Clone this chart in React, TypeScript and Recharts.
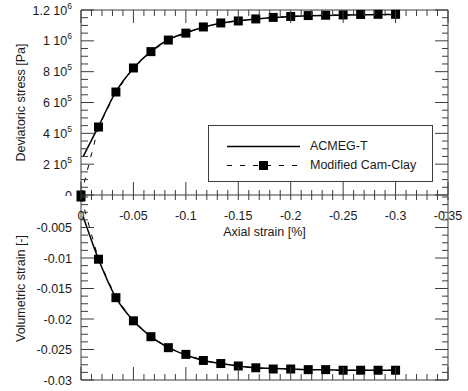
import React from "react";
import { Label, Legend, Line, LineChart, XAxis, YAxis } from "recharts";

const FONT = "'Liberation Sans', Arial, sans-serif";
const INK = "#1a1a1a";
const FRAME = "#3c3c3c";

// Modified Cam-Clay (square markers, dashed)
const camStrain = [0, -0.0167, -0.0333, -0.05, -0.0667, -0.0833, -0.1, -0.1167, -0.1333, -0.15, -0.1667, -0.1833, -0.2, -0.2167, -0.2333, -0.25, -0.2667, -0.2833, -0.3];
const camStress = [0, 4.41e5, 6.68e5, 8.24e5, 9.3e5, 1.005e6, 1.05e6, 1.09e6, 1.116e6, 1.129e6, 1.142e6, 1.152e6, 1.158e6, 1.164e6, 1.166e6, 1.168e6, 1.171e6, 1.172e6, 1.172e6];
const camVolume = [0, -0.0102, -0.0165, -0.0203, -0.0229, -0.0247, -0.0258, -0.0268, -0.0273, -0.0277, -0.028, -0.0282, -0.0282, -0.0283, -0.0283, -0.0284, -0.0284, -0.0284, -0.0284];

// ACMEG-T (solid line)
const acmegStrain = [-0.002, -0.0167, -0.0333, -0.05, -0.0667, -0.0833, -0.1, -0.1167, -0.1333, -0.15, -0.1667, -0.1833, -0.2, -0.2167, -0.2333, -0.25, -0.2667, -0.2833, -0.3];
const acmegStress = [2.48e5, 4.45e5, 6.7e5, 8.22e5, 9.32e5, 1.007e6, 1.052e6, 1.088e6, 1.114e6, 1.13e6, 1.142e6, 1.151e6, 1.157e6, 1.162e6, 1.165e6, 1.167e6, 1.169e6, 1.17e6, 1.171e6];
const acmegVolume = [-0.0032, -0.0102, -0.0165, -0.0203, -0.0229, -0.0247, -0.0259, -0.0268, -0.0273, -0.0277, -0.028, -0.0281, -0.0282, -0.0283, -0.0283, -0.0284, -0.0284, -0.0284, -0.0284];

// tick labels
const strainTicks = [0, -0.05, -0.1, -0.15, -0.2, -0.25, -0.3, -0.35];
const strainLabels = ["0", "-0.05", "-0.1", "-0.15", "-0.2", "-0.25", "-0.3", "-0.35"];
const stressTicks = [0, 2e5, 4e5, 6e5, 8e5, 1e6, 1.2e6];
const stressMantissa = ["0", "2", "4", "6", "8", "1", "1.2"];
const stressExponent = ["", "5", "5", "5", "5", "6", "6"];
const volumeTicks = [-0.005, -0.01, -0.015, -0.02, -0.025, -0.03];
const volumeLabels = ["-0.005", "-0.01", "-0.015", "-0.02", "-0.025", "-0.03"];

const strainMinor = Array.from({ length: 36 }, (_, i) => -i * 0.01);
const stressMinor = Array.from({ length: 25 }, (_, i) => i * 5e4);
const volumeMinor = Array.from({ length: 25 }, (_, i) => -i * 0.00125);

// one table per panel, rows keyed by axial strain
const merge = (xa: number[], ya: number[], xb: number[], yb: number[]) =>
  Array.from(new Set([...xa, ...xb]))
    .sort((p, q) => q - p)
    .map((x) => {
      const i = xa.indexOf(x);
      const j = xb.indexOf(x);
      return { x, cam: i >= 0 ? ya[i] : null, acmeg: j >= 0 ? yb[j] : null };
    });

const stressRows = merge(camStrain, camStress, acmegStrain, acmegStress);
const volumeRows = merge(camStrain, camVolume, acmegStrain, acmegVolume);

const findTick = (list: number[], v: number) =>
  list.findIndex((t) => Math.abs(t - v) < 1e-9 * Math.max(1, Math.abs(t)) + 1e-9);

const squareDot = (props: any) => {
  if (props.cx == null || props.cy == null || props.value == null) return <g key={props.index} />;
  return <rect key={props.index} x={props.cx - 4.5} y={props.cy - 4.5} width={9} height={9} fill="#000" />;
};

const TopTick = ({ x, y, payload }: any) => {
  const major = findTick(strainTicks, payload.value) >= 0;
  return <line x1={x} x2={x} y1={y} y2={y + (major ? 13 : 6)} stroke={FRAME} />;
};

const MidUpTick = ({ x, y, payload }: any) => {
  const major = findTick(strainTicks, payload.value) >= 0;
  return <line x1={x} x2={x} y1={y - (major ? 13 : 5)} y2={y + 1} stroke={FRAME} />;
};

const MidDownTick = ({ x, y, payload }: any) => {
  const i = findTick(strainTicks, payload.value);
  return (
    <g>
      <line x1={x} x2={x} y1={y - 1} y2={y + 3} stroke={FRAME} />
      {i >= 0 && (
        <text x={x} y={y + 22.5} textAnchor="middle" fontFamily={FONT} fontSize={12.5} fill={INK}>
          {strainLabels[i]}
        </text>
      )}
    </g>
  );
};

const BottomTick = ({ x, y, payload }: any) => {
  const major = findTick(strainTicks, payload.value) >= 0;
  return <line x1={x} x2={x} y1={y} y2={y - (major ? 13 : 6)} stroke={FRAME} />;
};

const StressTick = ({ x, y, payload }: any) => {
  const i = findTick(stressTicks, payload.value);
  return (
    <g>
      <line x1={x} x2={x + (i >= 0 ? 13 : 7)} y1={y} y2={y} stroke={FRAME} />
      {i >= 0 && (
        <text x={x - 9} y={y + 4.5} textAnchor="end" fontFamily={FONT} fontSize={12.5} fill={INK}>
          <tspan>{stressMantissa[i] + (stressExponent[i] ? " 10" : "")}</tspan>
          {stressExponent[i] && (
            <tspan dy={-6} fontSize={8.5}>
              {stressExponent[i]}
            </tspan>
          )}
        </text>
      )}
    </g>
  );
};

const VolumeTick = ({ x, y, payload }: any) => {
  const i = findTick(volumeTicks, payload.value);
  return (
    <g>
      <line x1={x} x2={x + (i >= 0 ? 13 : 7)} y1={y} y2={y} stroke={FRAME} />
      {i >= 0 && (
        <text x={x - 9} y={y + 4.5} textAnchor="end" fontFamily={FONT} fontSize={12.5} fill={INK}>
          {volumeLabels[i]}
        </text>
      )}
    </g>
  );
};

const RightStressTick = ({ x, y, payload }: any) => {
  const major = findTick(stressTicks, payload.value) >= 0;
  return <line x1={x} x2={x - (major ? 13 : 6)} y1={y} y2={y} stroke={FRAME} />;
};

const RightVolumeTick = ({ x, y, payload }: any) => {
  const major = findTick(volumeTicks, payload.value) >= 0;
  return <line x1={x} x2={x - (major ? 13 : 6)} y1={y} y2={y} stroke={FRAME} />;
};

const yTitle = (text: string) => (props: any) => {
  const vb = props.viewBox;
  const cx = vb.x + 21;
  const cy = vb.y + vb.height / 2;
  return (
    <text x={cx} y={cy} transform={`rotate(-90 ${cx} ${cy})`} textAnchor="middle" dominantBaseline="central" fontFamily={FONT} fontSize={12.5} fill={INK}>
      {text}
    </text>
  );
};

const xTitle = (props: any) => {
  const vb = props.viewBox;
  return (
    <text x={vb.x + vb.width / 2} y={vb.y + 40} textAnchor="middle" fontFamily={FONT} fontSize={12.5} fill={INK}>
      Axial strain [%]
    </text>
  );
};

const LegendBox = ({ payload }: any) => {
  const items = [...(payload || [])]
    .filter((e: any) => e.value === "ACMEG-T" || e.value === "Modified Cam-Clay")
    .sort((a: any, b: any) => (a.value > b.value ? 1 : -1));
  return (
    <div style={{ width: 225, height: 57, border: `1px solid ${FRAME}`, boxSizing: "border-box", background: "#fff", paddingTop: 10.5, fontFamily: FONT, fontSize: 12.5, color: INK }}>
      {items.map((entry: any) => {
        const dashed = entry.value !== "ACMEG-T";
        return (
          <div key={entry.value} style={{ display: "flex", alignItems: "center", height: 19 }}>
            <svg width={101} height={19} style={{ flex: "none" }}>
              <line x1={18} x2={91} y1={9.5} y2={9.5} stroke="#000" strokeWidth={dashed ? 1 : 1.5} strokeDasharray={dashed ? "5 8" : undefined} />
              {dashed && <rect x={50} y={5} width={9} height={9} fill="#000" />}
            </svg>
            <span style={{ whiteSpace: "nowrap" }}>{entry.value}</span>
          </div>
        );
      })}
    </div>
  );
};

const strainDomain: [number, number] = [-0.35, 0];

export default function App() {
  return (
    <div style={{ position: "absolute", left: 0, top: 0, width: 468, height: 391, background: "#fff" }}>
      {/* upper panel: deviatoric stress */}
      <LineChart width={468} height={196} data={stressRows} margin={{ top: 9, right: 19, bottom: 0, left: 0 }}>
        <XAxis xAxisId="t" type="number" dataKey="x" domain={strainDomain} reversed ticks={strainMinor} interval={0} orientation="top" height={1} tickSize={0} tickMargin={0} axisLine={{ stroke: FRAME }} tick={TopTick} />
        <XAxis xAxisId="b" type="number" dataKey="x" domain={strainDomain} reversed ticks={strainMinor} interval={0} orientation="bottom" height={1} tickSize={0} tickMargin={0} axisLine={{ stroke: FRAME }} tick={MidUpTick} />
        <YAxis yAxisId="l" type="number" domain={[0, 1.2e6]} ticks={stressMinor} interval={0} width={81} tickSize={0} tickMargin={0} axisLine={{ stroke: FRAME }} tick={StressTick}>
          <Label content={yTitle("Deviatoric stress [Pa]")} />
        </YAxis>
        <YAxis yAxisId="r" type="number" orientation="right" domain={[0, 1.2e6]} ticks={stressMinor} interval={0} width={1} tickSize={0} tickMargin={0} axisLine={{ stroke: FRAME }} tick={RightStressTick} />
        <Legend content={LegendBox} layout="horizontal" verticalAlign="middle" align="center" wrapperStyle={{ left: 208, top: 125, width: 225, height: 57 }} />
        <Line xAxisId="t" yAxisId="r" dataKey="cam" name="frame" stroke="none" dot={false} activeDot={false} legendType="none" connectNulls isAnimationActive={false} />
        <Line xAxisId="b" yAxisId="l" dataKey="cam" name="Modified Cam-Clay" stroke="#000" strokeWidth={1} strokeDasharray="5 8" dot={squareDot} activeDot={false} connectNulls isAnimationActive={false} />
        <Line xAxisId="b" yAxisId="l" dataKey="acmeg" name="ACMEG-T" type="monotone" stroke="#000" strokeWidth={1.5} dot={false} activeDot={false} connectNulls isAnimationActive={false} />
      </LineChart>
      {/* lower panel: volumetric strain */}
      <LineChart width={468} height={195} data={volumeRows} margin={{ top: 0, right: 19, bottom: 0, left: 0 }}>
        <XAxis xAxisId="m" type="number" dataKey="x" domain={strainDomain} reversed ticks={strainMinor} interval={0} orientation="top" height={1} tickSize={0} tickMargin={0} axisLine={false} tick={MidDownTick}>
          <Label content={xTitle} />
        </XAxis>
        <XAxis xAxisId="b" type="number" dataKey="x" domain={strainDomain} reversed ticks={strainMinor} interval={0} orientation="bottom" height={11} tickSize={0} tickMargin={0} axisLine={{ stroke: FRAME }} tick={BottomTick} />
        <YAxis yAxisId="l" type="number" domain={[-0.03, 0]} ticks={volumeMinor} interval={0} width={81} tickSize={0} tickMargin={0} axisLine={{ stroke: FRAME }} tick={VolumeTick}>
          <Label content={yTitle("Volumetric strain [-]")} />
        </YAxis>
        <YAxis yAxisId="r" type="number" orientation="right" domain={[-0.03, 0]} ticks={volumeMinor} interval={0} width={1} tickSize={0} tickMargin={0} axisLine={{ stroke: FRAME }} tick={RightVolumeTick} />
        <Line xAxisId="m" yAxisId="r" dataKey="cam" name="frame" stroke="none" dot={false} activeDot={false} legendType="none" connectNulls isAnimationActive={false} />
        <Line xAxisId="b" yAxisId="l" dataKey="cam" name="Modified Cam-Clay" stroke="#000" strokeWidth={1} strokeDasharray="5 8" dot={squareDot} activeDot={false} connectNulls isAnimationActive={false} />
        <Line xAxisId="b" yAxisId="l" dataKey="acmeg" name="ACMEG-T" type="monotone" stroke="#000" strokeWidth={1.5} dot={false} activeDot={false} connectNulls isAnimationActive={false} />
      </LineChart>
    </div>
  );
}
